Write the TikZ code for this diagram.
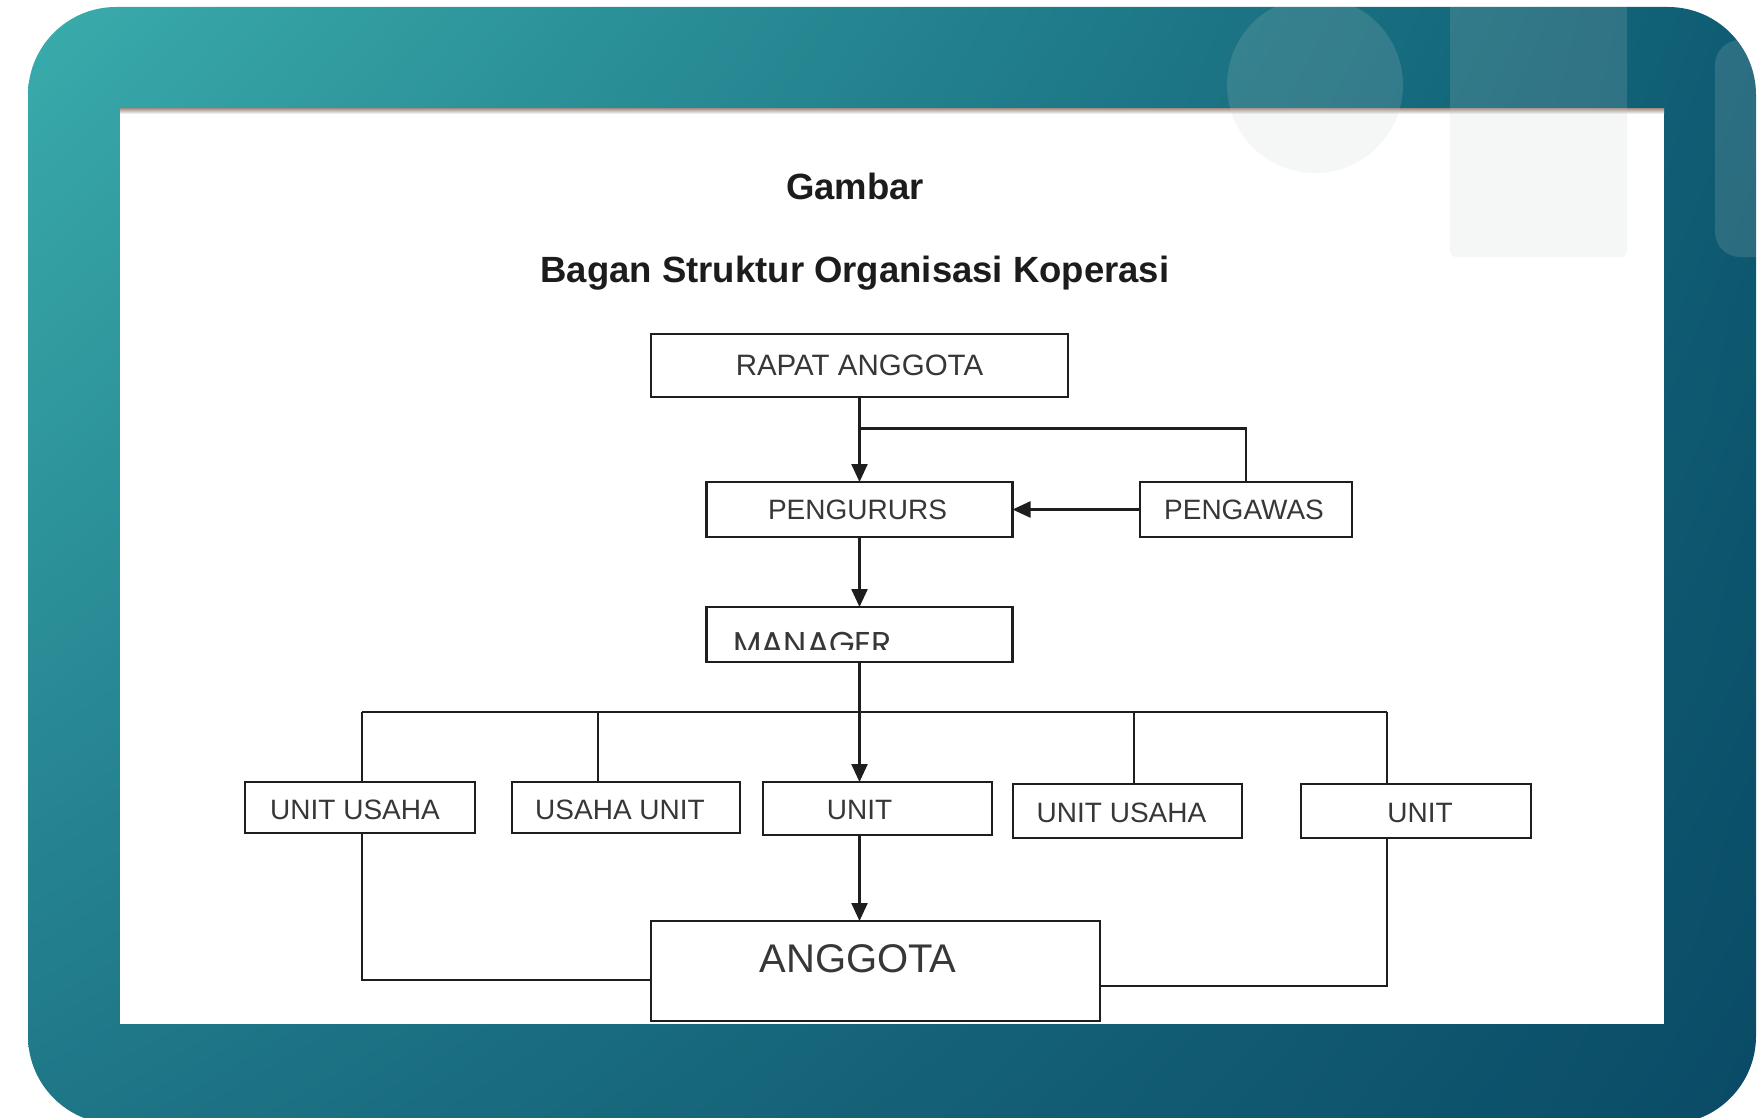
\documentclass[tikz,border=0pt]{standalone}
\usepackage{fontspec}
\setmainfont{Liberation Sans}
\newfontfamily\mgrfont{Poppins}
\usetikzlibrary{arrows.meta,shadings}

\definecolor{frameUL}{RGB}{58,172,172}
\definecolor{frameUR}{RGB}{14,92,115}
\definecolor{frameLL}{RGB}{30,118,135}
\definecolor{frameLR}{RGB}{10,75,102}
\definecolor{decofill}{RGB}{197,205,205}
\definecolor{shadowc}{RGB}{175,160,150}
\definecolor{boxline}{RGB}{30,30,30}
\definecolor{boxtext}{RGB}{55,55,55}
\definecolor{titletext}{RGB}{28,28,28}

\tikzset{
  orgbox/.style={draw=boxline, line width=2.4pt, fill=white, inner sep=0pt, outer sep=0pt},
  boxlabel/.style={text=boxtext, font=\fontsize{28}{30}\selectfont, inner sep=0pt},
  titlestyle/.style={text=titletext, font=\bfseries\fontsize{36.5}{39}\selectfont, inner sep=0pt, anchor=base},
  link/.style={draw=boxline, line width=2.4pt},
  arrowlink/.style={link, -{Triangle[length=18pt,width=16pt]}},
  deco/.style={fill=decofill, fill opacity=0.17}
}

\begin{document}
\begin{tikzpicture}[x=1pt,y=-1pt]
\useasboundingbox (0,0) rectangle (1759,1118);

% gradient frame
\shade[rounded corners=88pt, upper left=frameUL, upper right=frameUR,
       lower left=frameLL, lower right=frameLR] (28,7) rectangle (1756,1124);

% white sheet with a soft shadow under the frame edge
\fill[white] (120,109) rectangle (1664,1024);
\shade[top color=shadowc, bottom color=white] (120,109) rectangle (1664,114);

% translucent ornaments in the top right corner
\begin{scope}
  \clip[rounded corners=88pt] (28,7) rectangle (1756,1124);
  \fill[deco] (1315,85) circle (88);
  \fill[deco, rounded corners=6pt] (1450,-30) rectangle (1627,257);
  \fill[deco, rounded corners=25pt] (1715,40) rectangle (1800,257);
\end{scope}

% titles
\node[titlestyle] (title1) at (855,200) {Gambar};
\node[titlestyle] (title2) at (855,282) {Bagan Struktur Organisasi Koperasi};

% boxes
\node[orgbox, minimum width=417pt, minimum height=63pt,
      label={[boxlabel, font=\fontsize{29.5}{31}\selectfont]center:RAPAT ANGGOTA}] (rapat) at (859.5,365.5) {};
\node[orgbox, minimum width=306pt, minimum height=55pt,
      label={[boxlabel, xshift=-2pt]center:PENGURURS}] (pengurus) at (859.5,509.5) {};
\node[orgbox, minimum width=212pt, minimum height=55pt,
      label={[boxlabel, xshift=-2pt]center:PENGAWAS}] (pengawas) at (1246,509.5) {};
\node[orgbox, minimum width=306pt, minimum height=55pt] (mgr) at (859.5,634.5) {};
\begin{scope}
  \clip (706,607) rectangle (1012,649);
  \node[anchor=base west, inner sep=0pt, text=boxtext, font=\mgrfont\fontsize{33}{35}\selectfont] (mgrtext) at (733,655) {MANAGER};
\end{scope}

\node[orgbox, minimum width=230pt, minimum height=51pt,
      label={[boxlabel, xshift=-5pt, yshift=-2pt]center:UNIT USAHA}] (u1) at (360,807.5) {};
\node[orgbox, minimum width=228pt, minimum height=51pt,
      label={[boxlabel, xshift=-6pt, yshift=-2pt]center:USAHA UNIT}] (u2) at (626,807.5) {};
\node[orgbox, minimum width=229pt, minimum height=53pt,
      label={[boxlabel, xshift=-18pt, yshift=-1.5pt]center:UNIT}] (u3) at (877.5,808.5) {};
\node[orgbox, minimum width=229pt, minimum height=54pt,
      label={[boxlabel, xshift=-6pt, yshift=-2pt]center:UNIT USAHA}] (u4) at (1127.5,811) {};
\node[orgbox, minimum width=230pt, minimum height=54pt,
      label={[boxlabel, xshift=4pt, yshift=-2pt]center:UNIT}] (u5) at (1416,811) {};

\node[orgbox, minimum width=449pt, minimum height=100pt,
      label={[boxlabel, font=\fontsize{40}{42}\selectfont, xshift=-17.5pt, yshift=12pt]center:ANGGOTA}] (angg) at (875.5,971) {};

% connectors: upper part
\coordinate (top) at (859.5,428.5);
\draw[arrowlink] (rapat.south) -- (pengurus.north);
\draw[link] (top) -| (pengawas.north);
\draw[arrowlink] (pengawas.west) -- (pengurus.east);
\draw[arrowlink] (pengurus.south) -- (mgr.north);

% connectors: distribution bar to the units
\coordinate (spine) at (859.5,712);
\coordinate (busL) at (362,712);
\coordinate (busR) at (1387,712);
\coordinate (d2) at (598,712);
\coordinate (d4) at (1134,712);
\draw[link] (mgr.south) -- (spine);
\draw[link] (busL) -- (busR);
\draw[link] (busL) -- (busL |- u1.north);
\draw[link] (d2) -- (d2 |- u2.north);
\draw[arrowlink] (spine) -- (spine |- u3.north);
\draw[link] (d4) -- (d4 |- u4.north);
\draw[link] (busR) -- (busR |- u5.north);

% connectors: units to members
\coordinate (cL) at (362,980);
\coordinate (cR) at (1387,986);
\draw[link] (busL |- u1.south) -- (cL) -- (cL -| angg.west);
\draw[link] (busR |- u5.south) -- (cR) -- (cR -| angg.east);
\draw[arrowlink] (spine |- u3.south) -- (spine |- angg.north);
\end{tikzpicture}
\end{document}
